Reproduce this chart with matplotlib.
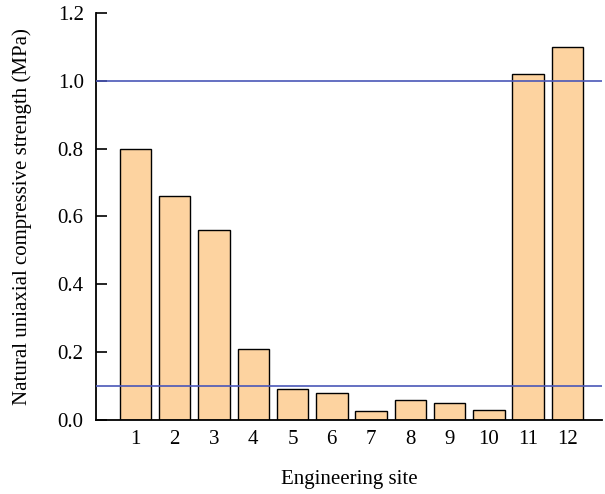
import numpy as np
import matplotlib
matplotlib.use("Agg")
import matplotlib.pyplot as plt


sites = ["1", "2", "3", "4", "5", "6", "7", "8", "9", "10", "11", "12"]
strength = [0.80, 0.66, 0.56, 0.21, 0.09, 0.08, 0.025, 0.06, 0.05, 0.03, 1.02, 1.10]
ref_levels = [1.0, 0.1]
y_ticks = [0.0, 0.2, 0.4, 0.6, 0.8, 1.0, 1.2]

plt.rcParams["font.family"] = ["Liberation Serif", "DejaVu Serif"]

fig = plt.figure(figsize=(6.05, 4.94), dpi=100)
ax = fig.add_axes([0.159, 0.150, 0.836, 0.824])

x = np.arange(1, len(sites) + 1)

ax.bar(
    x,
    strength,
    width=0.8,
    color="#fdd3a0",
    edgecolor="black",
    linewidth=1.0,
    zorder=2
)

for level in ref_levels:
    ax.axhline(level, color="#4a57b8", linewidth=1.2, zorder=3)

ax.set_xlim(0, 12.88)
ax.set_ylim(0, 1.2)

ax.set_xticks(x)
ax.set_xticklabels(sites)
ax.set_yticks(y_ticks)
ax.set_yticklabels([f"{v:.1f}" for v in y_ticks])

ax.tick_params(axis="x", length=0, pad=7, labelsize=15)
ax.tick_params(axis="y", length=8, width=1.2, direction="in", pad=9, labelsize=15)

ax.spines["top"].set_visible(False)
ax.spines["right"].set_visible(False)
ax.spines["left"].set_linewidth(1.3)
ax.spines["bottom"].set_linewidth(1.3)

ax.set_xlabel("Engineering site", fontsize=15)
ax.set_ylabel("Natural uniaxial compressive strength (MPa)", fontsize=15)
ax.xaxis.set_label_coords(0.5, -0.122)
ax.yaxis.set_label_coords(-0.127, 0.5)

fig.savefig("out.png", dpi=100)
